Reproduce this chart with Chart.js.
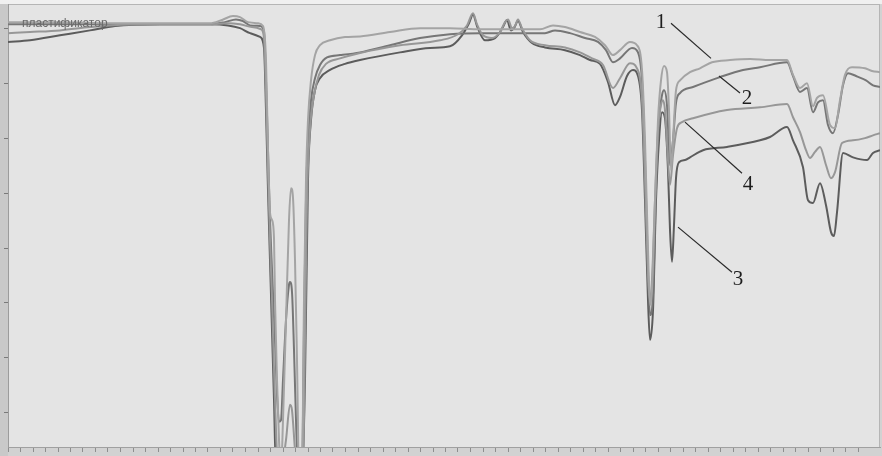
<!DOCTYPE html>
<html>
<head>
<meta charset="utf-8">
<script src="https://cdn.jsdelivr.net/npm/chart.js@4/dist/chart.umd.min.js"></script>
<style>
  html, body { margin: 0; padding: 0; background: #e4e4e4; }
  #wrap { width: 882px; height: 456px; position: relative; }
</style>
</head>
<body>
<div id="wrap"><canvas id="irChart"></canvas></div>
<script>
// wavenumber (cm-1) and transmittance, one pair of arrays per spectrum
const curve1Wn = [4000, 3792, 3592, 3392, 3192, 3144, 3100, 3072, 3040, 3000, 2980, 2968, 2960, 2952, 2944, 2936, 2932, 2924, 2916, 2908, 2900, 2888, 2876, 2868, 2860, 2852, 2844, 2836, 2824, 2816, 2808, 2800, 2788, 2772, 2752, 2712, 2652, 2592, 2472, 2352, 2232, 2112, 1952, 1872, 1820, 1772, 1712, 1652, 1612, 1580, 1552, 1512, 1484, 1464, 1452, 1440, 1432, 1424, 1412, 1400, 1388, 1376, 1364, 1356, 1348, 1340, 1328, 1312, 1272, 1232, 1184, 1112, 1032, 952, 884, 860, 832, 804, 780, 764, 740, 712, 692, 672, 652, 624, 572, 544, 512];
const curve1T = [81.1, 81.1, 80.9, 80.9, 80.9, 81.5, 82.2, 82.0, 81.1, 80.9, 80.4, 74.2, 57.8, 46.5, 45.1, 41.8, 30.5, 16.0, 5.1, -0.4, 8.7, 26.9, 45.1, 50.9, 49.1, 37.8, 19.6, -0.4, -0.4, 30.5, 52.4, 63.3, 70.5, 75.1, 76.9, 77.8, 78.4, 78.5, 79.3, 80.0, 80.0, 79.8, 79.8, 79.8, 80.5, 80.2, 79.3, 78.4, 76.9, 75.1, 76.0, 77.5, 76.9, 72.4, 59.6, 39.6, 29.6, 32.4, 48.7, 63.3, 70.5, 73.1, 72.0, 65.1, 54.2, 59.6, 68.7, 70.5, 72.0, 72.7, 73.8, 74.2, 74.4, 74.2, 74.2, 71.5, 69.1, 70.0, 65.8, 67.3, 67.8, 62.4, 61.8, 66.9, 71.5, 72.9, 72.7, 72.2, 72.0];

const curve2Wn = [4000, 3792, 3592, 3392, 3192, 3132, 3088, 3060, 3032, 2992, 2976, 2968, 2960, 2952, 2944, 2932, 2924, 2916, 2908, 2900, 2888, 2876, 2872, 2864, 2856, 2848, 2840, 2824, 2816, 2808, 2800, 2788, 2772, 2752, 2724, 2672, 2592, 2472, 2352, 2232, 2112, 1952, 1852, 1812, 1752, 1692, 1640, 1608, 1580, 1552, 1504, 1480, 1464, 1452, 1440, 1432, 1420, 1408, 1396, 1384, 1376, 1364, 1352, 1340, 1328, 1312, 1260, 1152, 1060, 992, 884, 860, 832, 804, 780, 760, 740, 720, 700, 680, 660, 640, 608, 568, 540, 512];
const curve2T = [80.7, 80.7, 80.7, 80.7, 80.7, 81.1, 81.6, 81.3, 80.5, 80.4, 79.3, 70.5, 57.8, 45.1, 36.0, 23.3, 13.3, 8.4, 8.7, 16.0, 26.9, 33.3, 33.8, 32.0, 21.5, 8.7, -0.4, -0.4, 25.1, 48.7, 59.6, 66.9, 70.9, 73.3, 74.7, 75.1, 75.6, 76.9, 78.2, 78.9, 79.1, 79.1, 79.1, 79.6, 79.1, 78.2, 77.5, 76.0, 73.8, 74.5, 76.4, 75.6, 70.5, 56.0, 36.0, 27.8, 31.5, 50.5, 63.3, 67.8, 68.7, 66.0, 55.1, 59.6, 66.4, 68.2, 69.3, 71.1, 72.4, 72.9, 73.8, 71.3, 68.4, 69.1, 64.7, 66.5, 66.9, 62.4, 60.9, 64.2, 69.6, 71.8, 71.3, 70.5, 69.6, 69.3];

const curve3Wn = [4000, 3912, 3792, 3672, 3572, 3392, 3192, 3120, 3072, 3032, 2992, 2976, 2968, 2960, 2952, 2944, 2936, 2928, 2824, 2812, 2800, 2788, 2772, 2752, 2712, 2652, 2592, 2432, 2312, 2232, 2184, 2156, 2140, 2124, 2092, 2052, 2020, 2004, 1988, 1976, 1960, 1940, 1904, 1852, 1772, 1712, 1672, 1632, 1600, 1572, 1552, 1524, 1500, 1480, 1464, 1452, 1440, 1432, 1420, 1408, 1396, 1384, 1372, 1360, 1352, 1344, 1336, 1328, 1316, 1292, 1272, 1220, 1124, 992, 952, 884, 860, 820, 800, 780, 752, 728, 708, 696, 684, 660, 620, 564, 540, 512];
const curve3T = [77.5, 77.8, 78.7, 79.6, 80.4, 80.7, 80.7, 80.5, 80.0, 79.1, 78.4, 76.4, 65.1, 50.5, 37.8, 25.1, 12.4, -0.4, -0.4, 16.0, 52.4, 63.3, 68.7, 70.9, 72.4, 73.5, 74.2, 75.6, 76.4, 76.7, 78.7, 80.9, 82.5, 80.4, 77.8, 78.2, 80.2, 81.5, 79.6, 80.0, 81.3, 79.3, 77.3, 76.5, 76.0, 75.1, 74.2, 73.5, 70.2, 66.0, 67.5, 71.3, 72.4, 71.3, 65.1, 48.7, 30.5, 23.3, 28.7, 48.7, 59.6, 64.7, 63.6, 54.2, 43.3, 37.5, 44.2, 52.7, 55.6, 56.0, 56.5, 57.8, 58.4, 59.6, 60.2, 62.0, 59.6, 54.7, 48.7, 48.2, 51.8, 47.8, 42.9, 42.2, 46.5, 57.3, 56.5, 56.0, 57.3, 57.8];

const curve4Wn = [4000, 3912, 3792, 3672, 3592, 3392, 3192, 3120, 3072, 3024, 2988, 2976, 2968, 2960, 2952, 2944, 2936, 2928, 2920, 2908, 2888, 2872, 2864, 2852, 2844, 2820, 2812, 2804, 2792, 2776, 2756, 2728, 2672, 2592, 2432, 2272, 2200, 2164, 2140, 2124, 2100, 2064, 2032, 2012, 2000, 1984, 1972, 1960, 1944, 1912, 1852, 1772, 1712, 1664, 1620, 1580, 1552, 1512, 1484, 1464, 1452, 1440, 1432, 1424, 1412, 1400, 1388, 1380, 1372, 1360, 1352, 1340, 1324, 1304, 1260, 1124, 992, 884, 860, 832, 808, 792, 772, 752, 728, 708, 692, 664, 620, 572, 540, 512];
const curve4T = [79.1, 79.3, 79.6, 80.2, 80.5, 80.7, 80.7, 80.9, 80.7, 80.2, 79.8, 78.2, 68.7, 54.2, 41.5, 30.5, 17.8, 6.9, -0.4, -0.4, 5.1, 11.5, 10.5, 3.3, -0.4, -0.4, 23.3, 48.7, 61.5, 67.8, 71.5, 73.5, 74.5, 75.5, 76.9, 77.8, 78.9, 80.5, 82.7, 80.7, 78.7, 78.2, 79.3, 81.1, 81.6, 80.0, 80.4, 81.6, 80.0, 77.8, 76.9, 76.5, 75.6, 74.5, 73.3, 69.1, 70.9, 73.6, 72.7, 66.9, 52.4, 35.1, 30.5, 34.2, 48.7, 61.5, 66.0, 66.9, 65.1, 56.0, 51.5, 56.9, 61.8, 62.9, 63.6, 65.1, 65.6, 66.2, 63.8, 61.1, 57.8, 56.4, 57.5, 58.4, 55.1, 52.7, 53.8, 59.1, 59.6, 60.0, 60.5, 60.9];

// curve number labels with their leader lines (from -> to)
const labelText = ['1', '2', '4', '3'];
const labelWn = [1388, 1044, 1040, 1080];
const labelT = [81.1, 67.3, 51.6, 34.2];
const leaderFromWn = [1348, 1156, 1292, 1320];
const leaderFromT = [80.9, 71.3, 62.9, 43.8];
const leaderToWn = [1188, 1072, 1064, 1104];
const leaderToT = [74.5, 68.2, 53.6, 35.6];

const sampleName = 'пластификатор';
const sampleNameWn = 3944;
const sampleNameT = 80.9;

const yTicks = [10, 20, 30, 40, 50, 60, 70, 80];

function toPoints(xs, ys) {
    return xs.map((x, i) => ({ x: x, y: ys[i] }));
}

function spectrum(label, xs, ys, color) {
    return {
        label: label,
        data: toPoints(xs, ys),
        borderColor: color,
        borderWidth: 2,
        pointRadius: 0,
        fill: false,
        cubicInterpolationMode: 'monotone'
    };
}

const backdrop = {
    id: 'backdrop',
    beforeDraw(chart) {
        const { ctx, chartArea: a, width, height } = chart;
        ctx.save();
        ctx.fillStyle = '#d2d2d2';
        ctx.fillRect(0, 0, width, height);
        ctx.fillStyle = '#f0f0f0';
        ctx.fillRect(0, 0, width, a.top);
        ctx.fillStyle = '#c9c9c9';
        ctx.fillRect(0, a.top, a.left, height - a.top);
        ctx.fillStyle = '#e4e4e4';
        ctx.fillRect(a.left, a.top, a.right - a.left, a.bottom - a.top);
        ctx.strokeStyle = '#b5b5b5';
        ctx.lineWidth = 1;
        ctx.strokeRect(a.left + 0.5, a.top + 0.5, a.right - a.left - 1, a.bottom - a.top);
        ctx.restore();
    }
};

const curveLabels = {
    id: 'curveLabels',
    afterDatasetsDraw(chart) {
        const { ctx, scales: { x, y } } = chart;
        ctx.save();
        ctx.strokeStyle = '#2a2a2a';
        ctx.lineWidth = 1.2;
        for (let i = 0; i < labelText.length; i++) {
            ctx.beginPath();
            ctx.moveTo(x.getPixelForValue(leaderFromWn[i]), y.getPixelForValue(leaderFromT[i]));
            ctx.lineTo(x.getPixelForValue(leaderToWn[i]), y.getPixelForValue(leaderToT[i]));
            ctx.stroke();
        }
        ctx.fillStyle = '#1e1e1e';
        ctx.font = '21px "Liberation Serif", "DejaVu Serif", serif';
        ctx.textAlign = 'center';
        ctx.textBaseline = 'middle';
        for (let i = 0; i < labelText.length; i++) {
            ctx.fillText(labelText[i], x.getPixelForValue(labelWn[i]), y.getPixelForValue(labelT[i]));
        }
        ctx.fillStyle = '#6a6a6a';
        ctx.font = '12px "Liberation Sans", Arial, sans-serif';
        ctx.textAlign = 'left';
        ctx.fillText(sampleName, x.getPixelForValue(sampleNameWn), y.getPixelForValue(sampleNameT));
        ctx.restore();
    }
};

const ctx = document.getElementById('irChart').getContext('2d');
new Chart(ctx, {
    type: 'line',
    data: {
        datasets: [
            spectrum('1', curve1Wn, curve1T, '#a4a4a4'),
            spectrum('4', curve4Wn, curve4T, '#979797'),
            spectrum('2', curve2Wn, curve2T, '#767676'),
            spectrum('3', curve3Wn, curve3T, '#5c5c5c')
        ]
    },
    options: {
        responsive: true,
        maintainAspectRatio: false,
        animation: false,
        layout: { padding: { left: 4, top: 4, right: 2, bottom: 4 } },
        plugins: {
            legend: { display: false },
            tooltip: { enabled: false }
        },
        scales: {
            x: {
                type: 'linear',
                reverse: true,
                min: 512,
                max: 4000,
                afterBuildTicks: (scale) => {
                    scale.ticks = scale.ticks.filter(t => t.value % 50 === 0);
                },
                ticks: { display: false, stepSize: 50, maxTicksLimit: 200 },
                grid: { drawOnChartArea: false, tickLength: 5, color: '#8e8e8e', lineWidth: 1 },
                border: { color: '#a0a0a0' }
            },
            y: {
                min: 3.8,
                max: 84.4,
                afterBuildTicks: (scale) => {
                    scale.ticks = yTicks.map(v => ({ value: v }));
                },
                ticks: { display: false },
                grid: { drawOnChartArea: false, tickLength: 4, color: '#7a7a7a', lineWidth: 1 },
                border: { color: '#9c9c9c' }
            }
        }
    },
    plugins: [backdrop, curveLabels]
});
</script>
</body>
</html>
